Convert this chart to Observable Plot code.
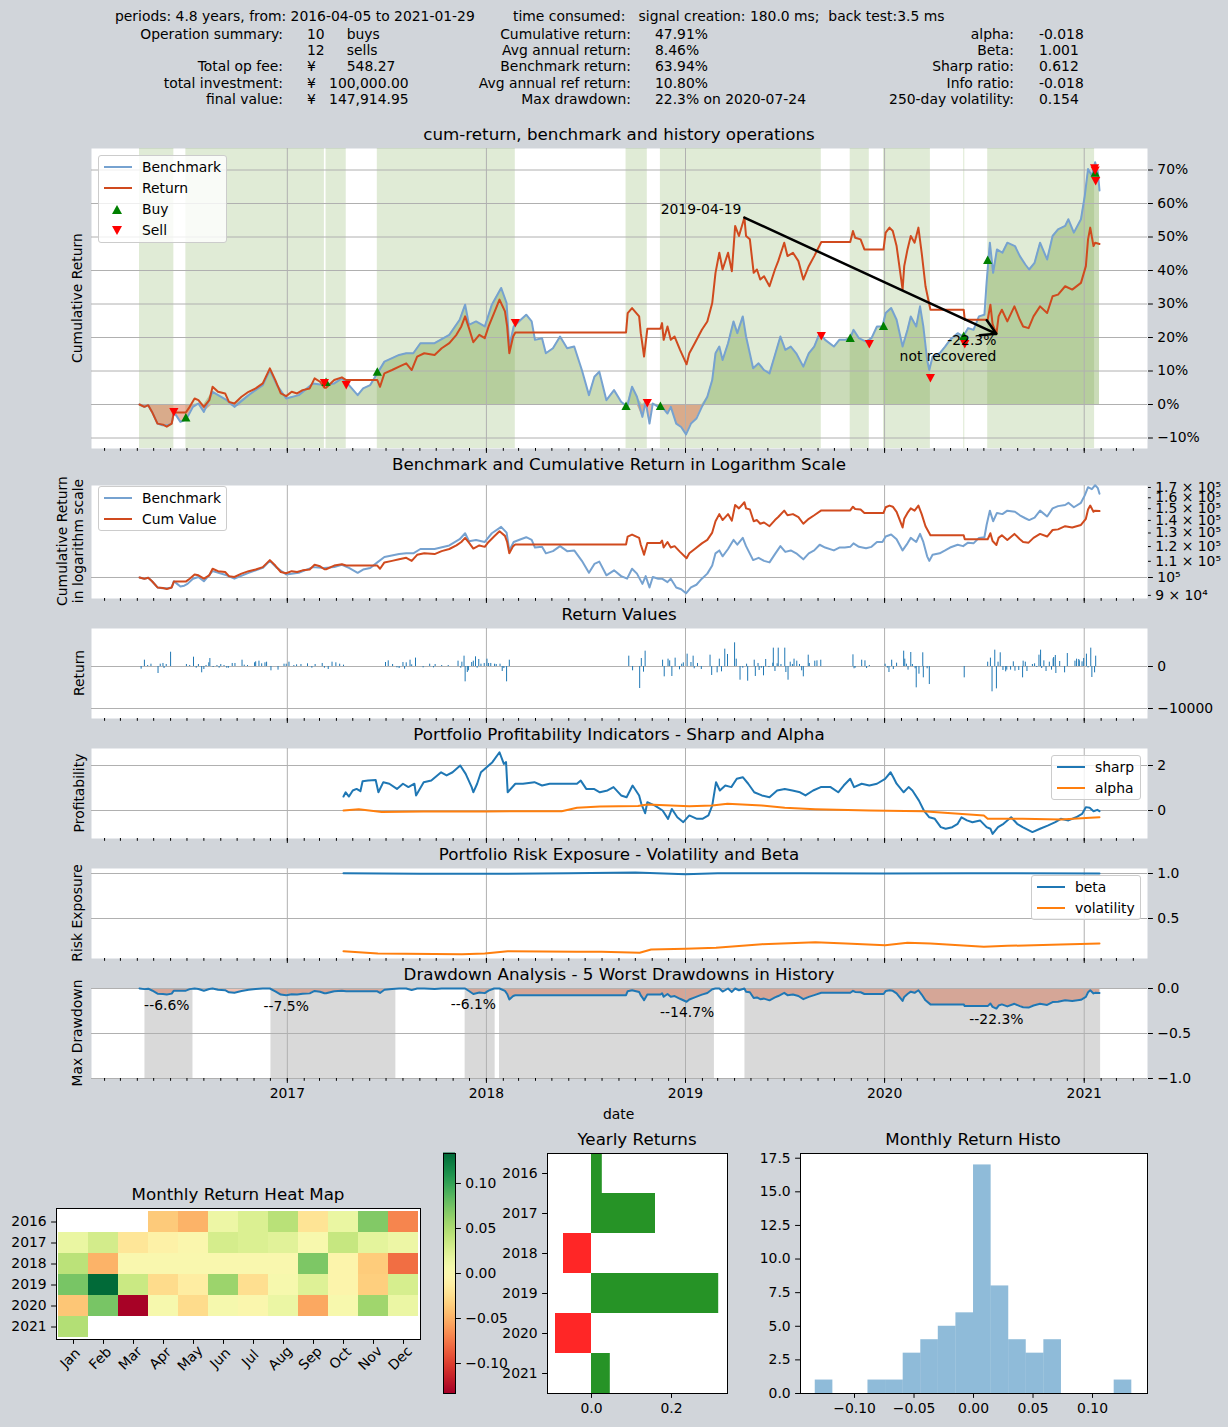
<!DOCTYPE html>
<html>
<head>
<meta charset="utf-8">
<script src="https://cdn.jsdelivr.net/npm/d3@7"></script>
<script src="https://cdn.jsdelivr.net/npm/@observablehq/plot@0.6"></script>
<style>
html,body{margin:0;padding:0;background:#d1d5da;}
#root{position:relative;width:1228px;height:1427px;overflow:hidden;background:#d1d5da;font-family:"DejaVu Sans",sans-serif;color:#000;}
#root svg{position:absolute;}
.t{position:absolute;font-size:13.9px;line-height:16px;white-space:pre;}
.r{transform:translateX(-100%);}
.ttl{position:absolute;font-size:16.7px;line-height:20px;white-space:pre;transform:translate(-50%,-50%);}
.rot{position:absolute;font-size:13.9px;line-height:16px;white-space:pre;text-align:center;transform:translate(-50%,-50%) rotate(-90deg);}
.lg{position:absolute;background:rgba(255,255,255,0.8);border:1px solid #cccccc;border-radius:3px;box-sizing:border-box;}
</style>
</head>
<body>
<div id="root"></div>
<script>
// ---------------- DATA ----------------
const benchmarkCum = [
["2016-04-05",0],["2016-04-14",-0.007],["2016-04-21",-0.002],["2016-04-28",-0.022],["2016-05-08",-0.057],["2016-05-17",-0.062],["2016-05-27",-0.062],["2016-06-03",-0.057],["2016-06-07",-0.022],["2016-06-13",-0.037],["2016-06-19",-0.052],["2016-06-26",-0.047],["2016-07-02",-0.037],["2016-07-12",-0.007],["2016-07-22",0.003],["2016-08-01",-0.022],["2016-08-17",0.038],["2016-09-12",0.013],["2016-09-26",-0.007],["2016-10-22",0.028],["2016-11-17",0.058],["2016-11-30",0.103],["2016-12-13",0.058],["2016-12-30",0.018],
["2017-01-22",0.028],["2017-02-17",0.063],["2017-03-09",0.058],["2017-03-28",0.063],["2017-04-11",0.078],["2017-04-24",0.058],["2017-05-10",0.028],["2017-05-20",0.048],["2017-06-02",0.058],["2017-06-15",0.093],["2017-06-28",0.128],["2017-07-25",0.148],["2017-08-07",0.153],["2017-08-20",0.153],["2017-09-02",0.183],["2017-09-28",0.183],["2017-10-25",0.208],["2017-11-13",0.253],["2017-11-23",0.298],["2017-11-30",0.238],["2017-12-13",0.248],["2017-12-29",0.233],
["2018-01-11",0.298],["2018-01-28",0.348],["2018-02-07",0.303],["2018-02-12",0.173],["2018-02-20",0.233],["2018-03-05",0.253],["2018-03-15",0.268],["2018-03-25",0.248],["2018-03-31",0.193],["2018-04-13",0.198],["2018-04-20",0.153],["2018-05-03",0.168],["2018-05-16",0.203],["2018-05-29",0.168],["2018-06-11",0.173],["2018-06-25",0.103],["2018-07-08",0.028],["2018-07-18",0.083],["2018-07-27",0.098],["2018-08-09",0.013],["2018-08-23",0.043],["2018-09-05",0.008],["2018-09-16",-0.007],["2018-09-25",0.053],["2018-10-04",0.023],["2018-10-14",-0.037],["2018-10-20",0.008],["2018-10-27",-0.057],["2018-11-02",0.003],["2018-11-12",-0.007],["2018-11-19",-0.007],["2018-11-29",-0.027],["2018-12-05",-0.007],["2018-12-15",-0.057],["2018-12-24",-0.067],
["2019-01-02",-0.089],["2019-01-11",-0.057],["2019-01-21",-0.042],["2019-01-31",-0.007],["2019-02-10",0.023],["2019-02-19",0.073],["2019-02-25",0.153],["2019-03-04",0.173],["2019-03-10",0.133],["2019-03-20",0.183],["2019-03-30",0.248],["2019-04-06",0.213],["2019-04-16",0.263],["2019-04-22",0.203],["2019-05-05",0.108],["2019-05-15",0.123],["2019-05-25",0.103],["2019-06-04",0.093],["2019-06-14",0.148],["2019-06-24",0.203],["2019-07-03",0.163],["2019-07-13",0.173],["2019-07-23",0.153],["2019-08-05",0.113],["2019-08-15",0.153],["2019-08-25",0.173],["2019-09-04",0.213],["2019-09-14",0.193],["2019-09-30",0.173],["2019-10-10",0.193],["2019-10-20",0.193],["2019-10-30",0.198],["2019-11-05",0.223],["2019-11-15",0.198],["2019-11-28",0.188],["2019-12-08",0.198],["2019-12-18",0.233],["2019-12-28",0.233],
["2020-01-03",0.273],["2020-01-13",0.288],["2020-01-23",0.253],["2020-02-03",0.173],["2020-02-12",0.223],["2020-02-18",0.263],["2020-02-28",0.233],["2020-03-06",0.293],["2020-03-12",0.233],["2020-03-19",0.133],["2020-03-23",0.103],["2020-03-29",0.143],["2020-04-11",0.153],["2020-04-21",0.173],["2020-04-30",0.193],["2020-05-14",0.213],["2020-05-24",0.203],["2020-06-02",0.228],["2020-06-12",0.223],["2020-06-22",0.263],["2020-07-02",0.268],["2020-07-06",0.363],["2020-07-12",0.483],["2020-07-18",0.393],["2020-07-25",0.463],["2020-08-04",0.453],["2020-08-13",0.483],["2020-08-27",0.473],["2020-09-05",0.443],["2020-09-15",0.418],["2020-09-22",0.403],["2020-10-02",0.423],["2020-10-12",0.483],["2020-10-25",0.433],["2020-11-04",0.503],["2020-11-14",0.523],["2020-11-27",0.533],["2020-12-03",0.553],["2020-12-13",0.513],["2020-12-26",0.553],
["2021-01-02",0.623],["2021-01-08",0.703],["2021-01-15",0.683],["2021-01-21",0.723],["2021-01-26",0.693],["2021-01-29",0.639]
];
const returnCum = [
["2016-04-05",0],["2016-04-14",-0.007],["2016-04-21",-0.002],["2016-04-28",-0.022],["2016-05-08",-0.057],["2016-05-18",-0.060],["2016-05-25",-0.066],["2016-06-03",-0.057],["2016-06-07",-0.024],["2016-06-29",-0.024],["2016-07-06",-0.007],["2016-07-15",0.018],["2016-07-22",0.013],["2016-08-01",-0.007],["2016-08-11",0.013],["2016-08-17",0.053],["2016-08-27",0.038],["2016-09-09",0.033],["2016-09-16",0.008],["2016-09-26",0.003],["2016-10-09",0.023],["2016-10-22",0.038],["2016-11-04",0.048],["2016-11-17",0.063],["2016-11-30",0.108],["2016-12-10",0.073],["2016-12-20",0.033],["2016-12-30",0.025],
["2017-01-09",0.038],["2017-01-19",0.033],["2017-01-29",0.043],["2017-02-11",0.048],["2017-02-20",0.078],["2017-03-02",0.068],["2017-03-10",0.050],["2017-03-13",0.050],["2017-03-28",0.073],["2017-04-11",0.081],["2017-04-19",0.073],["2017-06-15",0.073],["2017-06-20",0.053],["2017-06-28",0.093],["2017-07-12",0.103],["2017-07-25",0.113],["2017-08-07",0.123],["2017-08-17",0.103],["2017-08-27",0.143],["2017-09-09",0.153],["2017-09-28",0.148],["2017-10-11",0.168],["2017-10-25",0.183],["2017-11-07",0.208],["2017-11-16",0.233],["2017-11-23",0.263],["2017-11-30",0.228],["2017-12-08",0.186],["2017-12-19",0.208],["2017-12-29",0.198],
["2018-01-05",0.233],["2018-01-15",0.273],["2018-01-25",0.313],["2018-02-04",0.278],["2018-02-08",0.233],["2018-02-12",0.153],["2018-02-19",0.203],["2018-02-23",0.215],["2018-09-14",0.215],["2018-09-17",0.273],["2018-09-25",0.288],["2018-10-08",0.263],["2018-10-11",0.213],["2018-10-15",0.168],["2018-10-17",0.143],["2018-10-23",0.226],["2018-11-16",0.226],["2018-11-19",0.243],["2018-11-22",0.193],["2018-11-29",0.233],["2018-12-05",0.193],["2018-12-12",0.203],["2018-12-22",0.163],
["2019-01-03",0.120],["2019-01-08",0.153],["2019-01-18",0.183],["2019-01-31",0.223],["2019-02-10",0.248],["2019-02-19",0.303],["2019-02-25",0.393],["2019-03-04",0.453],["2019-03-10",0.403],["2019-03-20",0.453],["2019-03-27",0.398],["2019-04-02",0.533],["2019-04-09",0.503],["2019-04-19",0.558],["2019-04-22",0.503],["2019-04-29",0.493],["2019-05-06",0.393],["2019-05-12",0.403],["2019-05-18",0.373],["2019-05-25",0.383],["2019-06-04",0.353],["2019-06-14",0.403],["2019-06-20",0.428],["2019-07-01",0.483],["2019-07-07",0.443],["2019-07-17",0.453],["2019-07-27",0.428],["2019-08-05",0.373],["2019-08-15",0.413],["2019-08-25",0.443],["2019-09-07",0.485],["2019-10-30",0.485],["2019-11-04",0.518],["2019-11-08",0.498],["2019-11-18",0.493],["2019-11-25",0.463],["2019-12-04",0.463],["2019-12-30",0.463],
["2020-01-03",0.513],["2020-01-10",0.528],["2020-01-16",0.518],["2020-01-23",0.473],["2020-02-03",0.343],["2020-02-06",0.413],["2020-02-12",0.463],["2020-02-18",0.503],["2020-02-25",0.483],["2020-03-03",0.528],["2020-03-09",0.453],["2020-03-16",0.353],["2020-03-25",0.283],["2020-05-25",0.283],["2020-05-27",0.253],["2020-07-08",0.253],["2020-07-13",0.298],["2020-07-17",0.240],["2020-07-24",0.211],["2020-07-28",0.263],["2020-08-03",0.283],["2020-08-13",0.248],["2020-08-26",0.293],["2020-09-05",0.253],["2020-09-11",0.233],["2020-09-21",0.228],["2020-09-30",0.263],["2020-10-12",0.293],["2020-10-25",0.273],["2020-11-04",0.323],["2020-11-14",0.328],["2020-11-27",0.353],["2020-12-10",0.343],["2020-12-26",0.363],
["2021-01-04",0.413],["2021-01-08",0.493],["2021-01-12",0.528],["2021-01-18",0.473],["2021-01-21",0.483],["2021-01-29",0.479]
];
const holdStart = ["2016-04-05","2016-06-29","2017-03-13","2017-06-15","2018-09-14","2018-11-16","2019-10-30","2019-12-30","2020-05-25","2020-07-08"];
const holdEnd   = ["2016-06-07","2017-03-10","2017-04-19","2018-02-23","2018-10-23","2019-09-07","2019-12-04","2020-03-25","2020-05-27","2021-01-20"];
const buyPoints = [["2016-06-29",-0.040],["2017-03-13",0.066],["2017-06-15",0.096],["2018-09-14",-0.006],["2018-11-16",-0.006],["2019-10-30",0.197],["2019-12-30",0.233],["2020-05-25",0.203],["2020-07-08",0.430],["2021-01-21",0.690]];
const sellPoints = [["2016-06-07",-0.021],["2017-03-10",0.066],["2017-04-19",0.060],["2018-02-23",0.245],["2018-10-23",0.006],["2019-09-07",0.206],["2019-12-04",0.182],["2020-03-25",0.081],["2020-05-27",0.182],["2021-01-20",0.707],["2021-01-21",0.700],["2021-01-22",0.669]];
const annotPeak = ["2019-04-19", 0.558];
const annotTrough = ["2020-07-24", 0.211];

const dailyReturnValues = [
["2016-04-08",-640],["2016-04-14",1500],["2016-04-20",240],["2016-04-26",550],["2016-05-09",-1670],["2016-05-13",550],["2016-05-18",720],["2016-05-20",-480],["2016-05-24",480],["2016-06-01",3400],["2016-06-30",480],["2016-07-06",240],["2016-07-13",2220],["2016-07-18",-400],["2016-07-22",480],["2016-07-28",-1500],["2016-08-01",-720],["2016-08-05",240],["2016-08-10",880],["2016-08-12",1900],["2016-08-18",-240],["2016-08-25",240],["2016-08-29",-400],["2016-09-01",480],["2016-09-07",240],["2016-09-12",-400],["2016-09-15",-400],["2016-09-22",720],["2016-09-27",720],["2016-10-10",1500],["2016-10-14",320],["2016-10-20",240],["2016-11-02",880],["2016-11-04",1110],["2016-11-10",1270],["2016-11-15",640],["2016-11-21",880],["2016-11-24",1030],["2016-12-02",-1030],["2016-12-15",-870],["2016-12-26",550],["2016-12-30",550],
["2017-01-04",1030],["2017-01-13",240],["2017-01-18",400],["2017-01-26",480],["2017-02-07",640],["2017-02-15",-400],["2017-02-21",480],["2017-03-06",720],["2017-03-10",-400],["2017-03-17",-720],["2017-03-24",1030],["2017-03-31",880],["2017-04-07",550],["2017-04-14",320],["2017-06-30",950],["2017-07-05",1350],["2017-07-13",480],["2017-07-21",-320],["2017-07-25",-480],["2017-08-01",950],["2017-08-04",-640],["2017-08-07",880],["2017-08-14",1500],["2017-08-17",400],["2017-08-24",2000],["2017-09-07",-320],["2017-09-19",550],["2017-09-26",-320],["2017-09-29",480],["2017-10-11",240],["2017-10-23",240],["2017-11-10",1270],["2017-11-15",-400],["2017-11-17",1030],["2017-11-21",2460],["2017-11-23",-3650],["2017-11-27",-1430],["2017-11-29",-1030],["2017-12-05",950],["2017-12-08",1270],["2017-12-12",2300],["2017-12-15",-400],["2017-12-18",1670],["2017-12-22",550],["2017-12-28",720],
["2018-01-02",1750],["2018-01-05",720],["2018-01-09",720],["2018-01-16",550],["2018-01-19",480],["2018-01-26",550],["2018-01-30",-1190],["2018-02-02",-480],["2018-02-07",-3650],["2018-02-12",1500],["2018-09-19",2460],["2018-09-26",-1030],["2018-10-09",-5240],["2018-10-12",1900],["2018-10-16",-1350],["2018-10-19",3650],["2018-11-20",1500],["2018-11-23",-2460],["2018-11-30",1750],["2018-12-03",1350],["2018-12-07",-2380],["2018-12-13",1990],["2018-12-21",-790],["2018-12-25",550],["2018-12-28",870],
["2019-01-04",2940],["2019-01-11",950],["2019-01-15",2460],["2019-01-17",-550],["2019-01-23",720],["2019-01-30",-720],["2019-02-15",2700],["2019-02-18",-2140],["2019-02-28",-1510],["2019-03-04",1750],["2019-03-08",-1270],["2019-03-14",4130],["2019-03-19",2860],["2019-04-01",5640],["2019-04-04",1750],["2019-04-11",-3260],["2019-04-16",-400],["2019-04-23",550],["2019-04-25",-3500],["2019-05-07",1500],["2019-05-09",-2380],["2019-05-14",720],["2019-05-16",-950],["2019-05-20",-400],["2019-05-24",-2220],["2019-05-28",1670],["2019-06-03",-240],["2019-06-10",790],["2019-06-11",4370],["2019-06-14",-1190],["2019-06-18",640],["2019-06-20",4370],["2019-06-25",480],["2019-07-02",4370],["2019-07-04",-1430],["2019-07-08",-3260],["2019-07-12",1030],["2019-07-16",480],["2019-07-19",1750],["2019-07-24",1270],["2019-07-29",480],["2019-08-02",-1030],["2019-08-05",-2460],["2019-08-14",2700],["2019-08-16",720],["2019-08-26",1270],["2019-08-30",1350],["2019-09-06",1500],["2019-11-04",2780],["2019-11-06",-550],["2019-11-08",-400],["2019-11-20",1500],["2019-11-26",1350],["2019-11-29",-480],["2019-12-04",240],
["2020-01-02",550],["2020-01-06",-400],["2020-01-09",-1430],["2020-01-14",1500],["2020-01-17",-720],["2020-01-23",790],["2020-02-05",3650],["2020-02-07",1750],["2020-02-10",550],["2020-02-13",-870],["2020-02-18",3330],["2020-02-21",480],["2020-02-26",-550],["2020-02-28",-5080],["2020-03-04",-1830],["2020-03-11",3260],["2020-03-12",-2700],["2020-03-19",-550],["2020-03-23",-4290],["2020-05-26",-2700],["2020-07-08",1030],["2020-07-13",1990],["2020-07-16",-6030],["2020-07-21",3890],["2020-07-24",-5320],["2020-07-27",1030],["2020-07-31",3260],["2020-08-05",-950],["2020-08-10",-1270],["2020-08-12",-870],["2020-08-19",-870],["2020-08-24",1110],["2020-08-27",-1110],["2020-09-03",-950],["2020-09-10",-2700],["2020-09-11",1270],["2020-09-15",1030],["2020-09-18",-1190],["2020-09-28",480],["2020-10-02",640],["2020-10-06",-240],["2020-10-10",2700],["2020-10-13",3890],["2020-10-15",-480],["2020-10-19",1350],["2020-10-23",-1190],["2020-10-29",1030],["2020-11-02",-870],["2020-11-05",1830],["2020-11-06",2140],["2020-11-09",2620],["2020-11-10",-1670],["2020-11-17",1190],["2020-11-26",-1510],["2020-12-01",3090],["2020-12-15",1270],["2020-12-18",1750],["2020-12-22",1670],["2020-12-23",1350],["2020-12-28",1110],["2020-12-31",1910],
["2021-01-05",2940],["2021-01-08",-320],["2021-01-13",4370],["2021-01-15",-2620],["2021-01-20",-1510],["2021-01-22",2460]
];

const sharpRatio = [
["2017-04-14",0.62],["2017-04-18",0.81],["2017-04-24",0.62],["2017-05-01",0.89],["2017-05-08",0.96],["2017-05-15",0.86],["2017-05-19",1.30],["2017-05-29",1.33],["2017-06-12",1.36],["2017-06-17",0.81],["2017-06-26",1.26],["2017-07-07",1.19],["2017-07-21",0.96],["2017-08-01",1.19],["2017-08-11",1.04],["2017-08-22",1.19],["2017-08-25",0.67],["2017-09-08",1.26],["2017-09-22",1.33],["2017-10-10",1.70],["2017-10-20",1.56],["2017-10-31",1.70],["2017-11-14",2.00],["2017-11-24",1.63],["2017-12-05",1.04],["2017-12-08",0.81],["2017-12-15",1.19],["2017-12-22",1.70],
["2018-01-02",1.93],["2018-01-12",2.15],["2018-01-25",2.59],["2018-02-02",2.07],["2018-02-06",2.15],["2018-02-09",0.81],["2018-02-23",1.19],["2018-03-09",1.19],["2018-03-30",1.26],["2018-04-13",1.11],["2018-04-27",1.19],["2018-06-16",1.19],["2018-06-23",1.33],["2018-07-03",0.96],["2018-07-17",0.96],["2018-07-28",0.81],["2018-08-11",0.89],["2018-08-22",1.04],["2018-09-05",0.67],["2018-09-15",0.59],["2018-09-26",1.11],["2018-10-08",0.67],["2018-10-12",0.30],["2018-10-19",-0.12],["2018-10-23",0.37],["2018-11-06",0.22],["2018-11-20",0.0],["2018-11-30",-0.37],["2018-12-07",0.07],["2018-12-17",-0.30],["2018-12-28",-0.52],
["2019-01-08",-0.22],["2019-01-22",-0.37],["2019-02-01",-0.37],["2019-02-12",-0.22],["2019-02-19",0.22],["2019-02-26",1.26],["2019-03-05",0.89],["2019-03-15",1.11],["2019-03-26",1.04],["2019-04-05",1.41],["2019-04-16",1.48],["2019-04-26",1.19],["2019-05-07",0.81],["2019-05-21",0.67],["2019-06-04",0.59],["2019-06-18",0.89],["2019-07-02",0.96],["2019-07-16",0.89],["2019-07-30",0.81],["2019-08-09",0.67],["2019-08-23",0.89],["2019-09-06",1.04],["2019-09-24",1.04],["2019-10-08",0.81],["2019-10-18",1.11],["2019-10-30",1.41],["2019-11-06",1.04],["2019-11-20",1.19],["2019-12-04",1.11],["2019-12-18",1.19],
["2020-01-02",1.41],["2020-01-12",1.70],["2020-01-17",1.48],["2020-01-23",1.19],["2020-02-05",0.81],["2020-02-14",1.04],["2020-02-21",0.89],["2020-03-04",0.44],["2020-03-13",0.0],["2020-03-23",-0.30],["2020-04-02",-0.37],["2020-04-13",-0.74],["2020-04-22",-0.81],["2020-05-04",-0.74],["2020-05-14",-0.59],["2020-05-21",-0.30],["2020-05-31",-0.44],["2020-06-10",-0.52],["2020-06-24",-0.44],["2020-07-06",-0.74],["2020-07-13",-0.81],["2020-07-17",-1.04],["2020-07-27",-0.74],["2020-08-06",-0.59],["2020-08-20",-0.30],["2020-08-31",-0.59],["2020-09-10",-0.74],["2020-09-28",-0.96],["2020-10-12",-0.81],["2020-10-26",-0.67],["2020-11-09",-0.52],["2020-11-19",-0.37],["2020-12-03",-0.44],["2020-12-17",-0.30],["2020-12-28",-0.15],
["2021-01-04",0.15],["2021-01-11",0.12],["2021-01-18",-0.03],["2021-01-25",0.03],["2021-01-29",-0.03]
];
const alphaValues = [
["2017-04-14",0.0],["2017-05-12",0.06],["2017-06-23",-0.07],["2017-09-08",-0.04],["2017-12-29",-0.04],["2018-03-17",-0.03],["2018-05-19",-0.03],["2018-06-16",0.12],["2018-07-28",0.18],["2018-10-06",0.20],["2018-10-23",0.27],["2019-01-08",0.19],["2019-02-19",0.22],["2019-03-19",0.30],["2019-05-21",0.22],["2019-07-02",0.12],["2019-08-27",0.06],["2019-12-04",0.0],["2020-03-11",-0.03],["2020-07-01",-0.22],["2020-07-08",-0.37],["2020-09-10",-0.37],["2020-11-19",-0.40],["2021-01-04",-0.33],["2021-01-29",-0.30]
];
const betaValues = [
["2017-04-14",1.003],["2017-09-01",0.998],["2018-01-01",0.996],["2018-06-01",1.004],["2018-10-01",1.010],["2019-01-01",0.992],["2019-03-01",1.003],["2019-08-01",1.002],["2020-01-01",1.001],["2020-06-01",1.003],["2021-01-29",1.001]
];
const volatilityValues = [
["2017-04-14",0.137],["2017-06-16",0.111],["2017-11-17",0.104],["2017-12-29",0.111],["2018-02-09",0.137],["2018-06-16",0.130],["2018-07-31",0.130],["2018-10-09",0.120],["2018-10-30",0.156],["2019-01-01",0.163],["2019-02-26",0.174],["2019-05-21",0.215],["2019-08-27",0.237],["2019-10-22",0.222],["2020-01-02",0.204],["2020-02-12",0.230],["2020-03-25",0.222],["2020-07-01",0.185],["2020-08-13",0.196],["2020-11-19",0.211],["2021-01-29",0.222]
];
const worstDDStart = ["2016-04-15","2016-12-02","2017-11-23","2018-01-25","2019-04-20"];
const worstDDEnd   = ["2016-07-12","2017-07-19","2018-01-17","2019-02-23","2021-01-31"];
const worstDDLabels = [["2016-05-25",-0.066,"--6.6%"],["2016-12-30",-0.075,"--7.5%"],["2017-12-08",-0.061,"--6.1%"],["2019-01-04",-0.147,"--14.7%"],["2020-07-24",-0.223,"--22.3%"]];

const monthNames = ["Jan","Feb","Mar","Apr","May","Jun","Jul","Aug","Sep","Oct","Nov","Dec"];
const yearLabels = ["2016","2017","2018","2019","2020","2021"];
const monthly2016 = [null,null,null,-0.038,-0.050,0.012,0.024,0.043,-0.022,0.014,0.068,-0.070];
const monthly2017 = [0.014,0.029,-0.020,-0.010,-0.003,0.028,0.024,0.020,0.002,0.036,0.018,0.012];
const monthly2018 = [0.042,-0.050,0,0,0,0,0,0,0.070,-0.006,-0.037,-0.080];
const monthly2019 = [0.072,0.132,0.034,-0.027,-0.014,0.057,-0.025,0.003,0.022,-0.006,-0.035,0.027];
const monthly2020 = [-0.040,0.072,-0.132,0.003,-0.027,0.004,-0.003,0.013,-0.055,0.002,0.055,0.013];
const monthly2021 = [0.046,null,null,null,null,null,null,null,null,null,null,null];
const yearlyReturns = [0.027,0.160,-0.070,0.318,-0.090,0.047];
const histEdges = [-0.133,-0.1182,-0.1034,-0.0887,-0.0739,-0.0591,-0.0443,-0.0296,-0.0148,0,0.0148,0.0296,0.0443,0.0591,0.0739,0.0887,0.1034,0.1182,0.133];

// ---------------- HELPERS ----------------
const root = document.getElementById("root");
const parse = d3.utcParse("%Y-%m-%d");
const rows = a => a.map(([d, v]) => ({date: parse(d), v}));
const benchRows = rows(benchmarkCum), retRows = rows(returnCum);
const holdRows = holdStart.map((s, i) => ({start: parse(s), end: parse(holdEnd[i])}));
const buyRows = rows(buyPoints), sellRows = rows(sellPoints);
const barRows = rows(dailyReturnValues);
const sharpRows = rows(sharpRatio), alphaRows = rows(alphaValues);
const betaRows = rows(betaValues), volRows = rows(volatilityValues);
let runPeak = -Infinity;
const ddRows = retRows.map(d => { runPeak = Math.max(runPeak, 1 + d.v); return {date: d.date, v: (1 + d.v) / runPeak - 1}; });
const ddSpanRows = worstDDStart.map((s, i) => ({start: parse(s), end: parse(worstDDEnd[i])}));
const ddLabelRows = worstDDLabels.map(([d, v, t]) => ({date: parse(d), v, t}));

const X_DOMAIN = [parse("2016-01-08"), parse("2021-04-27")];
const yearTicks = d3.utcYears(X_DOMAIN[0], X_DOMAIN[1]);
const monthTicks = d3.utcMonths(X_DOMAIN[0], X_DOMAIN[1]);
const GRID = "#b0b0b0";
const BENCH = "#76a2d0", RET = "#d04a1e", C0 = "#1f77b4", C1 = "#ff7f0e";
const STYLE = {background: "transparent", fontFamily: '"DejaVu Sans", sans-serif', fontSize: "13.9px", color: "black", overflow: "visible"};
const minus = v => (v < 0 ? "\u2212" : "");

function place(svg, left, top) { svg.style.left = left + "px"; svg.style.top = top + "px"; root.appendChild(svg); }
function txt(s, x, y, cls = "t") {
  const d = document.createElement("div");
  d.className = cls; d.textContent = s;
  d.style.left = x + "px"; d.style.top = (cls.startsWith("t") ? y - 8 : y) + "px";
  root.appendChild(d); return d;
}
function title(s, x, y) { const d = document.createElement("div"); d.className = "ttl"; d.textContent = s; d.style.left = x + "px"; d.style.top = y + "px"; root.appendChild(d); }
function ylabel(s, x, y) { const d = document.createElement("div"); d.className = "rot"; d.textContent = s; d.style.left = x + "px"; d.style.top = y + "px"; root.appendChild(d); }
function legend(x, y, w, h, textX, entries) {
  const box = document.createElement("div"); box.className = "lg";
  Object.assign(box.style, {left: x + "px", top: y + "px", width: w + "px", height: h + "px"});
  root.appendChild(box);
  entries.forEach((e, i) => {
    const cy = y + 12 + i * 21;
    const m = document.createElement("div"); m.style.position = "absolute";
    if (e.line) {
      Object.assign(m.style, {left: (x + 6) + "px", top: (cy - 1) + "px", width: "28px", height: "2px", background: e.line});
    } else {
      Object.assign(m.style, {left: (x + 14) + "px", top: (cy - 4) + "px", width: "0", height: "0", borderLeft: "5px solid transparent", borderRight: "5px solid transparent"});
      if (e.up) m.style.borderBottom = "9px solid " + e.color; else m.style.borderTop = "9px solid " + e.color;
    }
    root.appendChild(m);
    txt(e.label, textX, cy);
  });
}
const triUp = {draw(c) { c.moveTo(0, -5); c.lineTo(4.6, 3.5); c.lineTo(-4.6, 3.5); c.closePath(); }};
const triDown = {draw(c) { c.moveTo(0, 5); c.lineTo(4.6, -3.5); c.lineTo(-4.6, -3.5); c.closePath(); }};

function panel(top, bottom, yOpts, marks, yAxes, last = false) {
  const h = bottom - top, mb = last ? 32 : 8;
  const svg = Plot.plot({
    width: 1228, height: h + mb, marginLeft: 91, marginRight: 81, marginTop: 0, marginBottom: mb,
    style: STYLE,
    x: {type: "utc", domain: X_DOMAIN},
    y: yOpts,
    marks: [
      Plot.frame({fill: "white", stroke: null}),
      ...marks,
      ...yAxes,
      Plot.axisX({ticks: monthTicks, tickSize: 2.8, tickFormat: () => "", label: null}),
      Plot.axisX({ticks: yearTicks, tickSize: 4.9, tickPadding: 4.9, tickFormat: last ? "%Y" : () => "", label: null})
    ]
  });
  place(svg, 0, top);
}
const yAxis = (ticks, fmt, size = 4.9) => Plot.axisY({anchor: "right", ticks, tickSize: size, tickPadding: 4.9, tickFormat: fmt, label: null});

// ---------------- HEADER ----------------
txt("periods: 4.8 years, from: 2016-04-05 to 2021-01-29", 115, 16);
txt("time consumed:   signal creation: 180.0 ms;  back test:3.5 ms", 513, 16);
const hdrY = [34, 50, 66, 83, 99];
const c1L = ["Operation summary:", "", "Total op fee:", "total investment:", "final value:"];
const c1V = ["10     buys", "12     sells", "\u00a5       548.27", "\u00a5   100,000.00", "\u00a5   147,914.95"];
const c2L = ["Cumulative return:", "Avg annual return:", "Benchmark return:", "Avg annual ref return:", "Max drawdown:"];
const c2V = ["47.91%", "8.46%", "63.94%", "10.80%", "22.3% on 2020-07-24"];
const c3L = ["alpha:", "Beta:", "Sharp ratio:", "Info ratio:", "250-day volatility:"];
const c3V = ["-0.018", "1.001", "0.612", "-0.018", "0.154"];
hdrY.forEach((y, i) => {
  txt(c1L[i], 283, y, "t r"); txt(c1V[i], 307, y);
  txt(c2L[i], 631, y, "t r"); txt(c2V[i], 655, y);
  txt(c3L[i], 1014, y, "t r"); txt(c3V[i], 1039, y);
});

// ---------------- PANEL 1 ----------------
const p1Dom = [-0.1313, 0.7642];
const p1Ticks = [-0.1, 0, 0.1, 0.2, 0.3, 0.4, 0.5, 0.6, 0.7];
const annot = [{d1: parse(annotPeak[0]), v1: annotPeak[1], d2: parse(annotTrough[0]), v2: annotTrough[1]}];
panel(148, 448, {domain: p1Dom}, [
  Plot.rect(holdRows, {x1: "start", x2: "end", y1: p1Dom[0], y2: p1Dom[1], fill: "rgb(102,153,51)", fillOpacity: 0.2}),
  Plot.areaY(benchRows, {x: "date", y1: 0, y2: d => Math.max(0, d.v), fill: "rgb(102,153,51)", fillOpacity: 0.35}),
  Plot.areaY(benchRows, {x: "date", y1: 0, y2: d => Math.min(0, d.v), fill: "rgb(204,51,0)", fillOpacity: 0.35}),
  Plot.ruleX(yearTicks, {stroke: GRID}),
  Plot.ruleY(p1Ticks, {stroke: GRID}),
  Plot.lineY(benchRows, {x: "date", y: "v", stroke: BENCH, strokeWidth: 2}),
  Plot.lineY(retRows, {x: "date", y: "v", stroke: RET, strokeWidth: 2}),
  Plot.dot(buyRows, {x: "date", y: "v", symbol: triUp, fill: "green", stroke: "none"}),
  Plot.dot(sellRows, {x: "date", y: "v", symbol: triDown, fill: "red", stroke: "none"}),
  Plot.arrow(annot, {x1: "d1", y1: "v1", x2: "d2", y2: "v2", stroke: "black", strokeWidth: 2.5, headLength: 10}),
  Plot.text(annot, {x: "d1", y: "v1", text: () => annotPeak[0], textAnchor: "end", dx: -3, dy: -8, fontSize: 13.9}),
  Plot.text(annot, {x: "d2", y: "v2", text: d => `-${Math.abs(worstDDLabels[4][1] * 100).toFixed(1)}%\nnot recovered`, textAnchor: "end", lineAnchor: "top", lineHeight: 1.15, dy: 0, fontSize: 13.9})
], [yAxis(p1Ticks, d => minus(d) + Math.abs(Math.round(d * 100)) + "%")]);

// ---------------- PANEL 2 (log) ----------------
const fmtLog = v => v === 100000 ? "10\u2075" : v === 90000 ? "9 \u00d7 10\u2074" : `${(v / 100000).toFixed(1)} \u00d7 10\u2075`;
panel(485, 598, {type: "log", domain: [88350, 172000]}, [
  Plot.ruleX(yearTicks, {stroke: GRID}),
  Plot.ruleY([100000], {stroke: GRID}),
  Plot.lineY(benchRows, {x: "date", y: d => 100000 * (1 + d.v), stroke: BENCH, strokeWidth: 2}),
  Plot.lineY(retRows, {x: "date", y: d => 100000 * (1 + d.v), stroke: RET, strokeWidth: 2})
], [yAxis([100000], fmtLog), yAxis([90000, 110000, 120000, 130000, 140000, 150000, 160000, 170000], fmtLog, 2.8)]);

// ---------------- PANEL 3 ----------------
panel(628, 718, {domain: [-12381, 9048]}, [
  Plot.ruleX(yearTicks, {stroke: GRID}),
  Plot.ruleY([0, -10000], {stroke: GRID}),
  Plot.ruleX(barRows, {x: "date", y1: 0, y2: "v", stroke: C0, strokeWidth: 1})
], [yAxis([0, -10000], d => minus(d) + Math.abs(d))]);

// ---------------- PANEL 4 ----------------
panel(748, 838, {domain: [-1.244, 2.756]}, [
  Plot.ruleX(yearTicks, {stroke: GRID}),
  Plot.ruleY([0, 2], {stroke: GRID}),
  Plot.lineY(sharpRows, {x: "date", y: "v", stroke: C0, strokeWidth: 2}),
  Plot.lineY(alphaRows, {x: "date", y: "v", stroke: C1, strokeWidth: 2})
], [yAxis([0, 2], d => String(d))]);

// ---------------- PANEL 5 ----------------
panel(868, 958, {domain: [0.0556, 1.0556]}, [
  Plot.ruleX(yearTicks, {stroke: GRID}),
  Plot.ruleY([0.5, 1.0], {stroke: GRID}),
  Plot.lineY(betaRows, {x: "date", y: "v", stroke: C0, strokeWidth: 2}),
  Plot.lineY(volRows, {x: "date", y: "v", stroke: C1, strokeWidth: 2})
], [yAxis([0.5, 1.0], d => d.toFixed(1))]);

// ---------------- PANEL 6 ----------------
panel(988, 1078, {domain: [-1, 0]}, [
  Plot.rect(ddSpanRows, {x1: "start", x2: "end", y1: -1, y2: 0, fill: "gray", fillOpacity: 0.3}),
  Plot.areaY(ddRows, {x: "date", y1: 0, y2: "v", fill: "rgb(204,51,0)", fillOpacity: 0.3}),
  Plot.ruleX(yearTicks, {stroke: GRID}),
  Plot.ruleY([0, -0.5, -1], {stroke: GRID}),
  Plot.lineY(ddRows, {x: "date", y: "v", stroke: C0, strokeWidth: 2}),
  Plot.text(ddLabelRows, {x: "date", y: "v", text: "t", dy: 11, fontSize: 13.9})
], [yAxis([0, -0.5, -1], d => minus(d) + Math.abs(d).toFixed(1))], true);

// titles, labels, legends for main panels
const cx = 619;
title("cum-return, benchmark and history operations", cx, 134);
title("Benchmark and Cumulative Return in Logarithm Scale", cx, 464);
title("Return Values", cx, 614);
title("Portfolio Profitability Indicators - Sharp and Alpha", cx, 734);
title("Portfolio Risk Exposure - Volatility and Beta", cx, 854);
title("Drawdown Analysis - 5 Worst Drawdowns in History", cx, 974);
ylabel("Cumulative Return", 77, 298);
ylabel("Cumulative Return\nin logarithm scale", 70, 541);
ylabel("Return", 79, 673);
ylabel("Profitability", 79, 793);
ylabel("Risk Exposure", 77, 913);
ylabel("Max Drawdown", 77, 1033);
txt("date", 603, 1114);
legend(98, 155, 129, 88, 142, [{line: BENCH, label: "Benchmark"}, {line: RET, label: "Return"}, {up: true, color: "green", label: "Buy"}, {color: "red", label: "Sell"}]);
legend(98, 486, 129, 45, 142, [{line: BENCH, label: "Benchmark"}, {line: RET, label: "Cum Value"}]);
legend(1051, 755, 90, 45, 1095, [{line: C0, label: "sharp"}, {line: C1, label: "alpha"}]);
legend(1031, 875, 110, 45, 1075, [{line: C0, label: "beta"}, {line: C1, label: "volatility"}]);

// ---------------- HEAT MAP ----------------
const monthlyByYear = [monthly2016, monthly2017, monthly2018, monthly2019, monthly2020, monthly2021];
const heatRows = [];
monthlyByYear.forEach((arr, i) => arr.forEach((v, j) => { if (v !== null) heatRows.push({year: yearLabels[i], month: monthNames[j], v}); }));
const CDOM = [-0.1333, 0.1333];
place(Plot.plot({
  width: 430, height: 131 + 50, marginLeft: 56, marginRight: 10, marginTop: 0, marginBottom: 50,
  style: STYLE,
  x: {type: "band", domain: monthNames, padding: 0},
  y: {type: "band", domain: yearLabels, padding: 0},
  color: {type: "linear", scheme: "rdylgn", domain: CDOM},
  marks: [
    Plot.frame({fill: "white", stroke: null}),
    Plot.cell(heatRows, {x: "month", y: "year", fill: "v", inset: 0}),
    Plot.frame({stroke: "black"}),
    Plot.axisY({tickSize: 4.9, tickPadding: 4.9, label: null}),
    Plot.axisX({tickSize: 4.9, tickFormat: () => "", label: null}),
    Plot.text(monthNames, {x: d => d, frameAnchor: "bottom", dy: 22, rotate: -45, textAnchor: "middle", fontSize: 13.9})
  ]
}), 0, 1208);
title("Monthly Return Heat Map", 238, 1194);

// colorbar
const cbN = 240;
const cbSteps = d3.range(cbN).map(i => CDOM[0] + i * (CDOM[1] - CDOM[0]) / cbN);
place(Plot.plot({
  width: 72, height: 250, marginLeft: 10, marginRight: 50, marginTop: 5, marginBottom: 5,
  style: STYLE,
  y: {domain: CDOM},
  color: {type: "linear", scheme: "rdylgn", domain: CDOM},
  marks: [
    Plot.rect(cbSteps, {y1: d => d, y2: d => d + (CDOM[1] - CDOM[0]) / cbN * 1.5, fill: d => d}),
    Plot.frame({stroke: "black"}),
    Plot.axisY({anchor: "right", ticks: [-0.1, -0.05, 0, 0.05, 0.1], tickSize: 4.9, tickPadding: 4.9, tickFormat: d => minus(d) + Math.abs(d).toFixed(2), label: null})
  ]
}), 433, 1148);

// ---------------- YEARLY RETURNS ----------------
const yearlyRows = yearLabels.map((y, i) => ({year: y, v: yearlyReturns[i]}));
place(Plot.plot({
  width: 255, height: 240 + 30, marginLeft: 60, marginRight: 15, marginTop: 0, marginBottom: 30,
  style: STYLE,
  x: {domain: [-0.11, 0.34]},
  y: {type: "band", domain: yearLabels, padding: 0},
  marks: [
    Plot.frame({fill: "white", stroke: null}),
    Plot.barX(yearlyRows, {x: "v", y: "year", fill: d => d.v >= 0 ? "rgb(38,147,38)" : "rgb(255,38,38)", inset: 0}),
    Plot.frame({stroke: "black"}),
    Plot.axisY({tickSize: 4.9, tickPadding: 4.9, label: null}),
    Plot.axisX({ticks: [0, 0.2], tickSize: 4.9, tickPadding: 4.9, tickFormat: d => d.toFixed(1), label: null})
  ]
}), 487, 1153);
title("Yearly Returns", 637, 1139);

// ---------------- HISTOGRAM ----------------
const monthlyFlat = heatRows.map(d => d.v);
place(Plot.plot({
  width: 417, height: 240 + 30, marginLeft: 50, marginRight: 20, marginTop: 0, marginBottom: 30,
  style: STYLE,
  x: {domain: [-0.1454, 0.1462]},
  y: {domain: [0, 17.85]},
  marks: [
    Plot.frame({fill: "white", stroke: null}),
    Plot.rectY(monthlyFlat, Plot.binX({y: "count"}, {x: d => d, thresholds: histEdges, domain: [histEdges[0], histEdges[histEdges.length - 1]], fill: C0, fillOpacity: 0.5, inset: 0})),
    Plot.frame({stroke: "black"}),
    Plot.axisY({ticks: [0, 2.5, 5, 7.5, 10, 12.5, 15, 17.5], tickSize: 4.9, tickPadding: 4.9, tickFormat: d => d.toFixed(1), label: null}),
    Plot.axisX({ticks: [-0.1, -0.05, 0, 0.05, 0.1], tickSize: 4.9, tickPadding: 4.9, tickFormat: d => minus(d) + Math.abs(d).toFixed(2), label: null})
  ]
}), 750, 1153);
title("Monthly Return Histo", 973, 1139);
</script>
</body>
</html>
